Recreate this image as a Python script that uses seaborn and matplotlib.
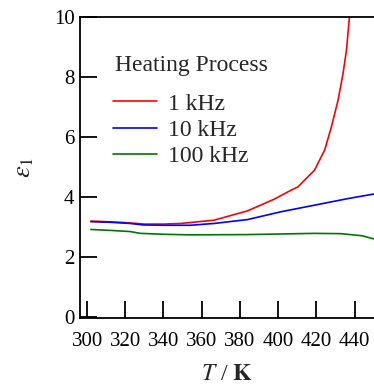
import matplotlib
matplotlib.use("Agg")
import matplotlib.pyplot as plt
import seaborn as sns
import pandas as pd

T_red = [302, 310, 320, 330, 340, 349, 366.5, 384, 398, 406.8, 410.4, 419.1, 424.4, 427.9, 431.4, 434.0, 435.8, 437.2, 438.0]
e_red = [3.19, 3.17, 3.14, 3.09, 3.09, 3.11, 3.22, 3.53, 3.92, 4.22, 4.33, 4.89, 5.56, 6.33, 7.22, 8.11, 8.89, 9.89, 10.3]
T_blue = [302, 312, 322.6, 329.6, 340, 354, 366.5, 384, 401.5, 419.1, 436.6, 451]
e_blue = [3.17, 3.15, 3.11, 3.06, 3.05, 3.05, 3.11, 3.24, 3.5, 3.72, 3.94, 4.1]
T_green = [302, 312, 322.6, 327.9, 340, 354, 384, 419, 433, 444, 451]
e_green = [2.91, 2.88, 2.84, 2.78, 2.75, 2.73, 2.74, 2.78, 2.77, 2.7, 2.58]
labels = ["1 kHz", "10 kHz", "100 kHz"]
colors = ["#ff0000", "#0000ff", "#007700"]
legend_title = "Heating Process"

df = pd.concat([
    pd.DataFrame({"T": T_red, "e": e_red, "freq": labels[0]}),
    pd.DataFrame({"T": T_blue, "e": e_blue, "freq": labels[1]}),
    pd.DataFrame({"T": T_green, "e": e_green, "freq": labels[2]}),
])

sns.set_style("ticks")
plt.rcParams["font.family"] = ["Liberation Serif", "DejaVu Serif"]
plt.rcParams["mathtext.fontset"] = "stix"

fig = plt.figure(figsize=(3.74, 3.85), dpi=100)
ax = fig.add_axes([80/374, 1-318.3/385, 1-80/374, (318.3-16.7)/385])
sns.lineplot(data=df, x="T", y="e", hue="freq", palette=colors, ax=ax,
             linewidth=1.2, sort=False, estimator=None)
ax.set_xlim(296.3, 450.2)
ax.set_ylim(-0.05, 10)
ax.set_xticks(range(300, 441, 20))
ax.set_yticks(range(0, 11, 2))
for s in ["left", "bottom", "top"]:
    ax.spines[s].set_linewidth(1.3)
    ax.spines[s].set_color("black")
ax.spines["right"].set_visible(False)
ax.tick_params(direction="in", length=12, width=1.3, labelsize=15, colors="black")
ax.tick_params(axis="x", pad=10)
ax.tick_params(axis="y", pad=4)
ax.set_xlabel(r"$\mathit{T}$ / $\mathbf{K}$", fontsize=17, labelpad=9)
ax.set_ylabel(r"$\varepsilon_{\mathit{1}}$", fontsize=19, labelpad=13)

fig.text(115/374, 1-65/385, legend_title, fontsize=17, ha="left", va="center")
leg = ax.legend(frameon=False, fontsize=17, loc="upper left",
                bbox_to_anchor=(113/374, 1-93/385), bbox_transform=fig.transFigure,
                handlelength=1.87, handletextpad=0.47, labelspacing=0.2,
                borderaxespad=0, borderpad=0)
fig.savefig("out.png", dpi=100)
